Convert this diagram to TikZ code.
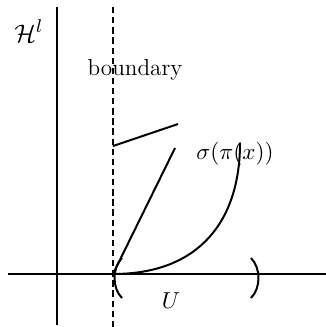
\documentclass[tikz,border=0pt]{standalone}
\usepackage{amsmath}

\begin{document}
\begin{tikzpicture}[
  axis/.style={draw=black,line width=0.95pt},
  curve/.style={draw=black,line width=0.95pt},
  bdry/.style={draw=black,line width=0.8pt,dash pattern=on 3pt off 1.8pt},
  label/.style={font=\fontsize{11}{13}\selectfont,text=black},
]
\useasboundingbox (-0.95,-0.883) rectangle (4.483,4.567);
% axes and the boundary
\coordinate (o) at (0,0);
\coordinate (p) at (0.933,0);
\draw[axis] (-0.82,0)--(4.48,0);
\draw[axis] (0,4.45)--(0,-0.85);
\draw[bdry] (0.933,4.45)--(0.933,-0.88);
% the pieces from the boundary point
\coordinate (s1) at (0.933,2.133);
\coordinate (s2) at (2.017,2.5);
\coordinate (top) at (1.967,2.1);
\coordinate (sig) at (3.05,2.183);
\draw[curve] (s1)--(s2);
\draw[curve] (p)--(top);
\draw[curve] (p) .. controls (2.383,0) and (3.05,0.9) .. (sig);
% the interval U
\draw[curve] (1.083,0.267) .. controls (0.917,0.1) and (0.917,-0.233) .. (1.083,-0.4);
\draw[curve] (3.233,0.267) .. controls (3.4,0.1) and (3.4,-0.233) .. (3.233,-0.4);
\node[label,scale=1.1] (hl) at (-0.47,4.05) {$\mathcal{H}^l$};
\node[label] (bd) at (1.3,3.4) {boundary};
\node[label] (sp) at (2.967,2.0) {$\sigma(\pi(x))$};
\node[label] (u) at (1.9,-0.45) {$U$};
\end{tikzpicture}
\end{document}
